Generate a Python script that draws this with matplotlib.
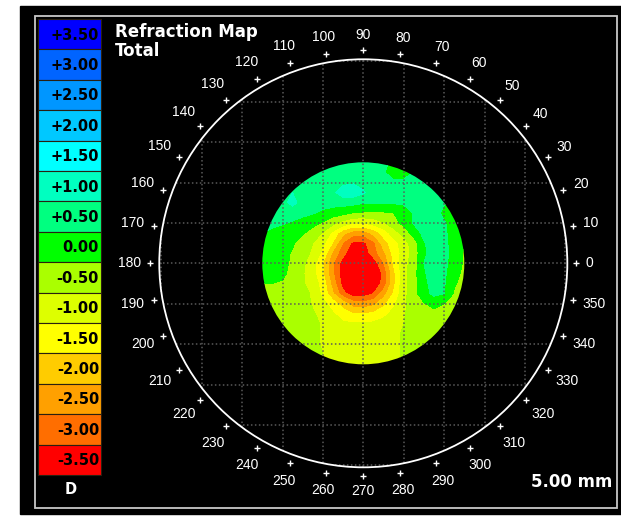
import matplotlib.pyplot as plt
import numpy as np
from matplotlib.patches import Rectangle, Circle

# dioptre scale, top to bottom
scale_labels = ['+3.50', '+3.00', '+2.50', '+2.00', '+1.50', '+1.00', '+0.50', '0.00',
                '-0.50', '-1.00', '-1.50', '-2.00', '-2.50', '-3.00', '-3.50']
scale_values = [3.5, 3.0, 2.5, 2.0, 1.5, 1.0, 0.5, 0.0,
                -0.5, -1.0, -1.5, -2.0, -2.5, -3.0, -3.5]
scale_colors = ['#0000ff', '#0064ff', '#0096ff', '#00c8ff', '#00ffff', '#00ffc0', '#00ff80', '#00ff00',
                '#aaff00', '#ddff00', '#ffff00', '#ffcc00', '#ffa000', '#ff6e00', '#ff0000']

# total refraction (D) sampled every 0.25 mm, rows from y=+2.5 mm down to y=-2.5 mm,
# columns from x=-2.5 mm to x=+2.5 mm
refraction = np.array([
    [0.5, 0.5, 0.5, 0.5, 0.5, 0.5, 0.5, 0.5, 0.5, 0.5, 0.5, 0.5, 0.4, 0.1, 0.1, 0.4, 0.5, 0.5, 0.5, 0.5, 0.5],
    [0.5, 0.5, 0.5, 0.5, 0.5, 0.5, 0.5, 0.5, 0.5, 0.5, 0.5, 0.45, 0.3, 0.0, 0.0, 0.3, 0.5, 0.5, 0.5, 0.5, 0.5],
    [0.5, 0.5, 0.5, 0.5, 0.5, 0.5, 0.5, 0.5, 0.65, 0.7, 0.6, 0.5, 0.5, 0.35, 0.35, 0.5, 0.5, 0.5, 0.5, 0.5, 0.5],
    [0.5, 0.5, 0.5, 0.75, 0.6, 0.5, 0.5, 0.65, 1.0, 1.05, 0.8, 0.55, 0.5, 0.5, 0.45, 0.5, 0.5, 0.5, 0.45, 0.45, 0.45],
    [0.5, 0.5, 0.6, 0.9, 0.55, 0.5, 0.45, 0.45, 0.45, 0.4, 0.3, 0.3, 0.3, 0.3, 0.35, 0.45, 0.5, 0.45, 0.3, 0.2, 0.2],
    [0.5, 0.5, 0.45, 0.45, 0.4, 0.3, 0.15, 0.0, -0.1, -0.25, -0.3, -0.3, -0.3, -0.25, -0.1, 0.3, 0.5, 0.5, 0.1, 0.0, 0.0],
    [0.35, 0.35, 0.3, 0.2, 0.05, -0.1, -0.3, -0.6, -0.95, -1.2, -1.2, -1.05, -0.8, -0.45, -0.1, 0.3, 0.5, 0.5, 0.3, 0.0, -0.1],
    [0.25, 0.15, 0.0, -0.05, -0.2, -0.45, -0.8, -1.4, -2.1, -2.55, -2.55, -2.1, -1.55, -1.0, -0.55, -0.05, 0.4, 0.5, 0.35, 0.0, -0.2],
    [0.05, 0.0, -0.05, -0.2, -0.45, -0.75, -1.15, -1.8, -2.8, -3.4, -3.4, -2.9, -2.0, -1.45, -1.0, -0.5, 0.2, 0.5, 0.4, 0.0, -0.2],
    [0.0, 0.0, -0.1, -0.3, -0.55, -0.85, -1.4, -2.4, -3.1, -3.7, -3.6, -3.0, -2.4, -1.6, -1.05, -0.55, 0.15, 0.5, 0.45, 0.0, -0.3],
    [0.0, 0.0, -0.1, -0.35, -0.65, -1.05, -1.75, -2.75, -3.5, -3.7, -3.7, -3.6, -2.8, -1.7, -0.95, -0.5, 0.25, 0.5, 0.4, -0.05, -0.3],
    [0.0, -0.05, -0.15, -0.4, -0.7, -1.1, -1.7, -2.7, -3.55, -3.7, -3.7, -3.7, -3.15, -1.9, -0.9, -0.45, 0.2, 0.45, 0.35, -0.1, -0.35],
    [-0.25, -0.25, -0.3, -0.45, -0.7, -1.0, -1.45, -2.5, -3.5, -3.7, -3.7, -3.65, -3.1, -1.9, -0.9, -0.45, 0.15, 0.4, 0.3, -0.2, -0.4],
    [-0.45, -0.45, -0.5, -0.5, -0.55, -0.85, -1.4, -2.2, -3.1, -3.55, -3.55, -3.25, -2.5, -1.7, -0.9, -0.45, 0.1, 0.35, 0.25, -0.3, -0.5],
    [-0.5, -0.5, -0.5, -0.5, -0.55, -0.8, -1.1, -1.5, -2.0, -2.5, -2.6, -2.4, -1.9, -1.35, -0.85, -0.5, -0.3, -0.05, -0.25, -0.5, -0.5],
    [-0.5, -0.5, -0.5, -0.5, -0.55, -0.7, -0.9, -1.2, -1.5, -1.75, -1.75, -1.65, -1.4, -1.1, -0.8, -0.55, -0.5, -0.45, -0.5, -0.5, -0.5],
    [-0.5, -0.5, -0.5, -0.5, -0.55, -0.65, -0.8, -1.0, -1.15, -1.2, -1.2, -1.15, -1.05, -0.9, -0.75, -0.6, -0.5, -0.5, -0.5, -0.5, -0.5],
    [-0.5, -0.5, -0.5, -0.55, -0.6, -0.65, -0.8, -0.95, -1.05, -1.1, -1.1, -1.05, -1.0, -0.85, -0.7, -0.6, -0.5, -0.5, -0.5, -0.5, -0.5],
    [-0.55, -0.55, -0.55, -0.55, -0.6, -0.65, -0.8, -0.9, -1.0, -1.05, -1.05, -1.0, -0.95, -0.85, -0.7, -0.6, -0.55, -0.5, -0.5, -0.5, -0.5],
    [-0.6, -0.6, -0.6, -0.6, -0.6, -0.65, -0.75, -0.9, -1.0, -1.0, -1.0, -1.0, -0.95, -0.85, -0.7, -0.6, -0.6, -0.6, -0.6, -0.6, -0.6],
    [-0.6, -0.6, -0.6, -0.6, -0.6, -0.65, -0.75, -0.9, -1.0, -1.0, -1.0, -1.0, -0.95, -0.85, -0.7, -0.6, -0.6, -0.6, -0.6, -0.6, -0.6],
])

angles = list(range(0, 360, 10))
zone_diameter = 5.00   # mm
outer_radius = 5.05    # mm, reference ring

W, H = 621, 516
fig = plt.figure(figsize=(W / 100, H / 100), dpi=100)
fig.patch.set_facecolor('white')

# panel laid out in pixels
bg = fig.add_axes([0, 0, 1, 1])
bg.set_xlim(0, W)
bg.set_ylim(H, 0)
bg.axis('off')
bg.add_patch(Rectangle((20, 6), 601, 508, color='black'))
bg.add_patch(Rectangle((35, 16), 582, 492, fill=False, ec='#c8c8c8', lw=1.3))

box_top, box_h = 19, 30.4
for k, (lab, col) in enumerate(zip(scale_labels, scale_colors)):
    y0 = box_top + k * box_h
    bg.add_patch(Rectangle((38, y0), 63, box_h, fc=col, ec='#2a2010', lw=0.8))
    bg.text(99, y0 + box_h / 2 + 1, lab, ha='right', va='center', color='black',
            fontsize=10.5, fontweight='bold')
bg.text(71, 490, 'D', ha='center', va='center', color='white', fontsize=10.5, fontweight='bold')

bg.text(115, 32, 'Refraction Map', ha='left', va='center', color='white', fontsize=12, fontweight='bold')
bg.text(115, 51, 'Total', ha='left', va='center', color='white', fontsize=12, fontweight='bold')
bg.text(612, 482, '%.2f mm' % zone_diameter, ha='right', va='center', color='white',
        fontsize=12, fontweight='bold')

# map axes in mm, centred on the corneal vertex
cx, cy, px_mm = 363.3, 263.3, 40.4
half = 6.0
ax = fig.add_axes([(cx - half * px_mm) / W, (H - cy - half * px_mm) / H,
                   2 * half * px_mm / W, 2 * half * px_mm / H])
ax.set_xlim(-half, half)
ax.set_ylim(-half, half)
ax.axis('off')
ax.patch.set_alpha(0)

n = refraction.shape[0]
xs = np.linspace(-zone_diameter / 2, zone_diameter / 2, n)
ys = np.linspace(-zone_diameter / 2, zone_diameter / 2, n)
bounds = np.arange(-3.75, 3.76, 0.5)
cs = ax.contourf(xs, ys, refraction[::-1], levels=bounds, colors=scale_colors[::-1],
                 antialiased=False, zorder=1)
cs.set_clip_path(Circle((0, 0), zone_diameter / 2, transform=ax.transData))

# 1 mm dotted grid inside the ring
for k in range(-5, 6):
    h = np.sqrt(outer_radius ** 2 - k ** 2)
    ax.plot([k, k], [-h, h], color='#5a5a5a', ls=(0, (1, 1.6)), lw=1.1, zorder=2)
    ax.plot([-h, h], [k, k], color='#5a5a5a', ls=(0, (1, 1.6)), lw=1.1, zorder=2)

ax.add_patch(Circle((0, 0), outer_radius, fill=False, ec='white', lw=1.3, zorder=3))

# angle ticks and labels
for a in angles:
    t = np.deg2rad(a)
    c, s = np.cos(t), np.sin(t)
    ax.plot(5.27 * c, 5.27 * s, marker='+', color='white', ms=4, mew=1, zorder=3)
    lab = str(a)
    r = 5.5 + 0.5 * len(lab) * 0.19 * abs(c) + 0.14 * abs(s)
    ax.text(r * c, r * s, lab, ha='center', va='center', color='white', fontsize=10,
            family=['Liberation Sans', 'DejaVu Sans'])

fig.savefig('out.png', dpi=100, facecolor='white')
